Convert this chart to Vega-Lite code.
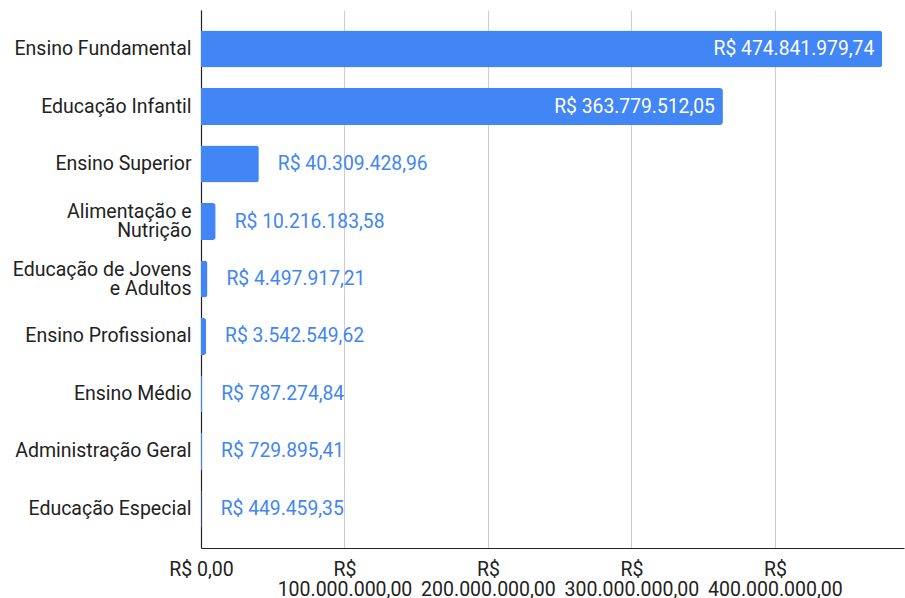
{
  "$schema": "https://vega.github.io/schema/vega-lite/v6.json",
  "autosize": "none",
  "width": 703,
  "height": 538,
  "padding": {"left": 201, "top": 10, "right": 1, "bottom": 50},
  "background": "white",
  "config": {
    "locale": {
      "number": {
        "decimal": ",",
        "thousands": ".",
        "grouping": [3],
        "currency": ["R$ ", ""]
      }
    },
    "view": {"stroke": null},
    "font": "Roboto"
  },
  "data": {
    "values": [
      {"categoria": "Ensino Fundamental", "valor": 474841979.74},
      {"categoria": "Educação Infantil", "valor": 363779512.05},
      {"categoria": "Ensino Superior", "valor": 40309428.96},
      {"categoria": "Alimentação e Nutrição", "valor": 10216183.58},
      {"categoria": "Educação de Jovens e Adultos", "valor": 4497917.21},
      {"categoria": "Ensino Profissional", "valor": 3542549.62},
      {"categoria": "Ensino Médio", "valor": 787274.84},
      {"categoria": "Administração Geral", "valor": 729895.41},
      {"categoria": "Educação Especial", "valor": 449459.35}
    ]
  },
  "encoding": {
    "y": {
      "field": "categoria",
      "type": "nominal",
      "sort": null,
      "title": null,
      "scale": {"paddingInner": 0.357, "paddingOuter": 0.357},
      "axis": {
        "domain": true,
        "domainColor": "#222222",
        "domainWidth": 1.2,
        "ticks": false,
        "labelPadding": 10,
        "labelFont": "Roboto",
        "labelFontSize": 19.5,
        "labelColor": "#222222",
        "labelLineHeight": 19,
        "labelLimit": 200,
        "labelOffset": {
          "condition": {
            "test": "datum.value == 'Alimentação e Nutrição' || datum.value == 'Educação de Jovens e Adultos'",
            "value": -9.5
          },
          "value": 0
        },
        "labelExpr": "datum.value == 'Alimentação e Nutrição' ? ['Alimentação e', 'Nutrição'] : datum.value == 'Educação de Jovens e Adultos' ? ['Educação de Jovens', 'e Adultos'] : datum.label"
      }
    },
    "x": {
      "field": "valor",
      "type": "quantitative",
      "title": null,
      "scale": {"domain": [0, 490000000], "nice": false},
      "axis": {
        "values": [0, 100000000, 200000000, 300000000, 400000000],
        "format": "$,.2f",
        "domain": true,
        "domainColor": "#222222",
        "domainWidth": 1.2,
        "ticks": false,
        "grid": true,
        "gridColor": "#cccccc",
        "gridWidth": 1,
        "labelFlush": false,
        "labelPadding": 12,
        "labelFont": "Roboto",
        "labelFontSize": 19.5,
        "labelColor": "#222222",
        "labelLineHeight": 20,
        "labelBaseline": "top",
        "labelExpr": "datum.value == 0 ? datum.label : split(datum.label, ' ')"
      }
    }
  },
  "layer": [
    {
      "mark": {"type": "bar", "color": "#4285F4", "cornerRadiusEnd": 3}
    },
    {
      "transform": [{"filter": "datum.valor > 200000000"}],
      "mark": {
        "type": "text",
        "align": "right",
        "baseline": "middle",
        "dx": -8,
        "font": "Roboto",
        "fontSize": 19.3,
        "color": "white"
      },
      "encoding": {"text": {"field": "valor", "type": "quantitative", "format": "$,.2f"}}
    },
    {
      "transform": [{"filter": "datum.valor <= 200000000"}],
      "mark": {
        "type": "text",
        "align": "left",
        "baseline": "middle",
        "dx": 19,
        "font": "Roboto",
        "fontSize": 19.3,
        "color": "#4285F4"
      },
      "encoding": {"text": {"field": "valor", "type": "quantitative", "format": "$,.2f"}}
    }
  ]
}
